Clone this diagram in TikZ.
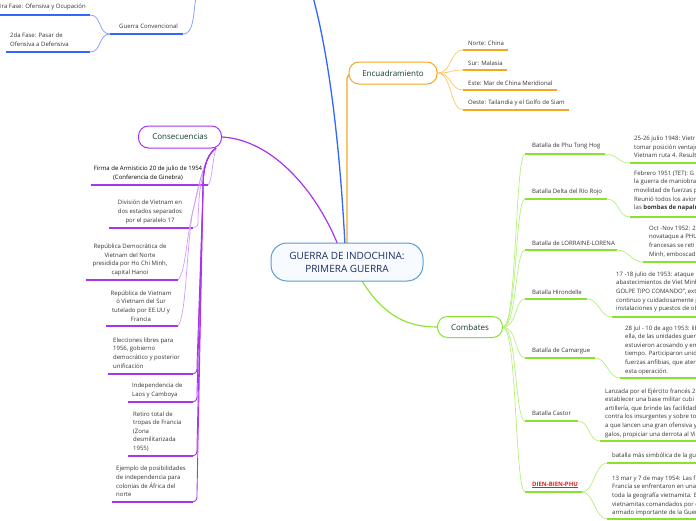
\documentclass[tikz,border=0pt]{standalone}
\usepackage{fontspec}
\setmainfont{Open Sans}
\definecolor{bluemain}{HTML}{3366FF}
\definecolor{bluelight}{HTML}{7A9BFF}
\definecolor{orangemain}{HTML}{F5A623}
\definecolor{orangelight}{HTML}{FFC766}
\definecolor{purplemain}{HTML}{AA33EE}
\definecolor{purplelight}{HTML}{D09AFA}
\definecolor{greenmain}{HTML}{88E22E}
\definecolor{greenlight}{HTML}{B5F07A}
\definecolor{rootborder}{HTML}{5A9BD5}
\definecolor{rootfill}{HTML}{F7FBFF}
\definecolor{titletext}{HTML}{0F3D33}
\definecolor{roottext}{HTML}{1F2D5A}
\definecolor{textgray}{HTML}{333333}
\definecolor{dienred}{HTML}{E02020}
\begin{document}
\begin{tikzpicture}[x=1pt,y=-1pt,
  txt/.style={font=\fontsize{6}{8.6}\selectfont, text=textgray, inner sep=0pt},
  branchbox/.style={draw, line width=1pt, rounded corners=10pt, fill=white, text=titletext,
    font=\fontsize{8}{10}\selectfont, minimum height=22pt, inner sep=0pt},
  rootbox/.style={draw=rootborder, line width=1pt, rounded corners=16pt, fill=rootfill,
    text=roottext, font=\fontsize{10}{14}\selectfont, minimum width=152pt, minimum height=38pt, align=center},
  ulblue/.style={draw=bluemain, line width=1.4pt},
  ulorange/.style={draw=orangemain, line width=1.4pt},
  ulpurple/.style={draw=purplemain, line width=1.4pt},
  ulgreen/.style={draw=greenmain, line width=1.4pt},
  cblue/.style={draw=bluelight, line width=0.7pt},
  corange/.style={draw=orangelight, line width=0.7pt},
  cpurple/.style={draw=purplemain, line width=0.9pt},
  cgreen/.style={draw=greenlight, line width=0.7pt},
]
\useasboundingbox (0,0) rectangle (696,520);

% ---------- main connectors (under the boxes)
\coordinate (topblue) at (313,-3);
\draw[draw=bluemain, line width=1.3pt] (345,245) .. controls (340,150) and (330,60) .. (topblue);
\draw[draw=orangemain, line width=1.2pt] (347,245) -- (347,82) .. controls (347,76) .. (352,73);
\draw[draw=purplemain, line width=1.2pt] (338,245) .. controls (318,195) and (275,140) .. (222,137);
\draw[draw=greenmain, line width=1.1pt] (362,281) .. controls (385,318) and (410,327) .. (437,327);

% ---------- root
\node[rootbox] (root) at (347,262) {GUERRA DE INDOCHINA:\\[-1pt]PRIMERA GUERRA};

% ---------- Guerra Convencional (top left)
\coordinate (gctop) at (196,-3);
\node[txt, anchor=west] (gc) at (119,26) {Guerra Convencional};
\draw[ulblue] (110,34) -- (183,34);
\draw[cblue] (183,34) .. controls (194,34) and (193,15) .. (gctop);
\node[txt, anchor=east] (f1) at (86,7) {1ra Fase: Ofensiva y Ocupación};
\draw[ulblue] (-2,15) -- (90,15);
\node[txt, anchor=west, align=left] (f2) at (10,39.5) {2da Fase: Pasar de\\Ofensiva a Defensiva};
\draw[ulblue] (6,52) -- (90,52);
\draw[cblue] (110,34) .. controls (98,34) and (102,15) .. (90,15);
\draw[cblue] (110,34) .. controls (98,34) and (102,52) .. (90,52);

% ---------- Encuadramiento
\node[branchbox, draw=orangemain, minimum width=88pt] (enc) at (393,73) {Encuadramiento};
\node[txt, anchor=west] (e1) at (468,43) {Norte: China};
\node[txt, anchor=west] (e2) at (468,63) {Sur: Malasia};
\node[txt, anchor=west] (e3) at (468,83) {Este: Mar de China Meridional};
\node[txt, anchor=west] (e4) at (468,103) {Oeste: Tailandia y el Golfo de Siam};
\draw[ulorange] (463,50) -- (508,50);
\draw[ulorange] (463,70) -- (507,70);
\draw[ulorange] (463,90) -- (557,90);
\draw[ulorange] (463,110) -- (569,110);
\foreach \yy in {50,70,90,110}{
  \draw[corange] (enc.east) .. controls (452,73) and (450,\yy) .. (463,\yy);
}

% ---------- Consecuencias
\node[branchbox, draw=purplemain, minimum width=83pt] (cons) at (180,137) {Consecuencias};
\coordinate (consb) at (216,148);
\node[txt, align=center, text=black] (c1) at (148,173) {Firma de Armisticio 20 de julio de 1954\\(Conferencia de Ginebra)};
\node[txt, align=center] (c2) at (150,212) {División de Vietnam en\\dos estados separados\\por el paralelo 17};
\node[txt, align=center] (c3) at (130,260) {República Democrática de\\Vietnam del Norte\\presidida por Ho Chi Minh,\\capital Hanoi};
\node[txt, align=center] (c4) at (141,306) {República de Vietnam\\ó Vietnam del Sur\\tutelado por EE.UU y\\Francia};
\node[txt, anchor=west, align=left] (c5) at (113,353) {Elecciones libres para\\1956, gobierno\\democrático y posterior\\unificación};
\node[txt, anchor=west, align=left] (c6) at (132,390.5) {Independencia de\\Laos y Camboya};
\node[txt, anchor=west, align=left] (c7) at (133,431.5) {Retiro total de\\tropas de Francia\\(Zona\\desmilitarizada\\1955)};
\node[txt, anchor=west, align=left] (c8) at (116,481.5) {Ejemplo de posibilidades\\de independencia para\\colonias de África del\\norte};
\draw[ulpurple] (91,185) -- (208,185);
\draw[ulpurple] (109,228) -- (193,228);
\draw[ulpurple] (86,280) -- (178,280);
\draw[ulpurple] (106,326) -- (178,326);
\draw[ulpurple] (108,374) -- (193,374);
\draw[ulpurple] (128,402) -- (193,402);
\draw[ulpurple] (128,456) -- (193,456);
\draw[ulpurple] (112,502) -- (193,502);
\draw[draw=purplelight, line width=0.7pt] (consb) .. controls (212,162) and (212,182) .. (208,185);
\draw[draw=purplelight, line width=0.7pt] (consb) .. controls (204,158) and (200,185) .. (199,200) -- (198,220) .. controls (198,226) .. (193,228);
\draw[draw=purplelight, line width=0.7pt] (consb) .. controls (204,158) and (200,180) .. (192,215) .. controls (186,240) and (186,270) .. (178,280);
\draw[draw=purplelight, line width=0.7pt] (consb) .. controls (204,158) and (200,180) .. (192,215) .. controls (186,260) and (186,315) .. (178,326);
\foreach \yy in {374,402,456,502}{
  \draw[cpurple] (consb) .. controls (205,156) and (203,172) .. (203,190) -- (197,\yy-9) .. controls (197,\yy-2) .. (193,\yy);
}

% ---------- Combates
\node[branchbox, draw=greenmain, minimum width=65pt, minimum height=21pt] (comb) at (470,327) {Combates};
\node[txt, anchor=west] (b1) at (532,146) {Batalla de Phu Tong Hog};
\node[txt, anchor=west] (b2) at (532,192) {Batalla Delta del Río Rojo};
\node[txt, anchor=west] (b3) at (532,243) {Batalla de LORRAINE-LORENA};
\node[txt, anchor=west] (b4) at (532,292) {Batalla Hirondelle};
\node[txt, anchor=west] (b5) at (532,351) {Batalla de Camargue};
\node[txt, anchor=west] (b6) at (532,413) {Batalla Castor};
\node[txt, anchor=west, text=dienred, font=\fontsize{6}{8.6}\selectfont\bfseries] (b7) at (532,485) {\underline{DIEN-BIEN-PHU}};
\foreach \yy/\xe in {154/605,199/607,250/617,299/587,358/595,421/578,492/582}{
  \draw[ulgreen] (525,\yy) -- (\xe,\yy);
  \draw[cgreen] (comb.east) .. controls (517,327) and (515,\yy) .. (525,\yy);
}

% details
\node[txt, anchor=west, align=left] (d1) at (634,147) {25-26 julio 1948: Vietr\\tomar posición ventajo\\Vietnam ruta 4. Resulta};
\node[txt, anchor=west, align=left] (d2) at (634,191) {Febrero 1951 (TET): G\\la guerra de maniobra\\movilidad de fuerzas p\\Reunió todos los avion\\las \textbf{bombas de napalm}};
\node[txt, anchor=west, align=left] (d3) at (649,241.5) {Oct -Nov 1952: 2\\novataque a PHU\\francesas se reti\\Minh, emboscad};
\node[txt, anchor=west, align=left] (d4) at (616,292) {17 -18 julio de 1953: ataque\\abastecimientos de Viet Minh\\GOLPE TIPO COMANDO", ext\\continuo y cuidadosamente p\\instalaciones y puestos de ob};
\node[txt, anchor=west, align=left] (d5) at (625,350) {28 jul - 10 de ago 1953: lib\\ella, de las unidades guer\\estuvieron acosando y em\\tiempo. Participaron unid\\fuerzas anfibias, que ater\\esta operación.};
\node[txt, anchor=west, align=left] (d6) at (605,413) {Lanzada por el Ejército francés 2\\establecer una base militar cubi\\artillería, que brinde las facilidad\\contra los insurgentes y sobre to\\a que lancen una gran ofensiva y\\galos, propiciar una derrota al Vi};
\node[txt, anchor=west] (d7) at (612,456) {batalla más simbólica de la gu};
\node[txt, anchor=west, align=left] (d8) at (612,496) {13 mar y 7 de may 1954: Las fu\\Francia se enfrentaron en una\\toda la geografía vietnamita. E\\vietnamitas comandados por e\\armado importante de la Guer};
\foreach \ya/\xa/\yb/\xb in {154/605/163/630, 199/607/217/630, 250/617/262/643, 299/587/317/612, 358/595/378/620, 421/578/441/600, 492/582/463/607, 492/582/519/607}{
  \draw[ulgreen] (\xb,\yb) -- (700,\yb);
  \draw[cgreen] (\xa,\ya) .. controls (\xa+12,\ya) and (\xb-12,\yb) .. (\xb,\yb);
}
\end{tikzpicture}
\end{document}
